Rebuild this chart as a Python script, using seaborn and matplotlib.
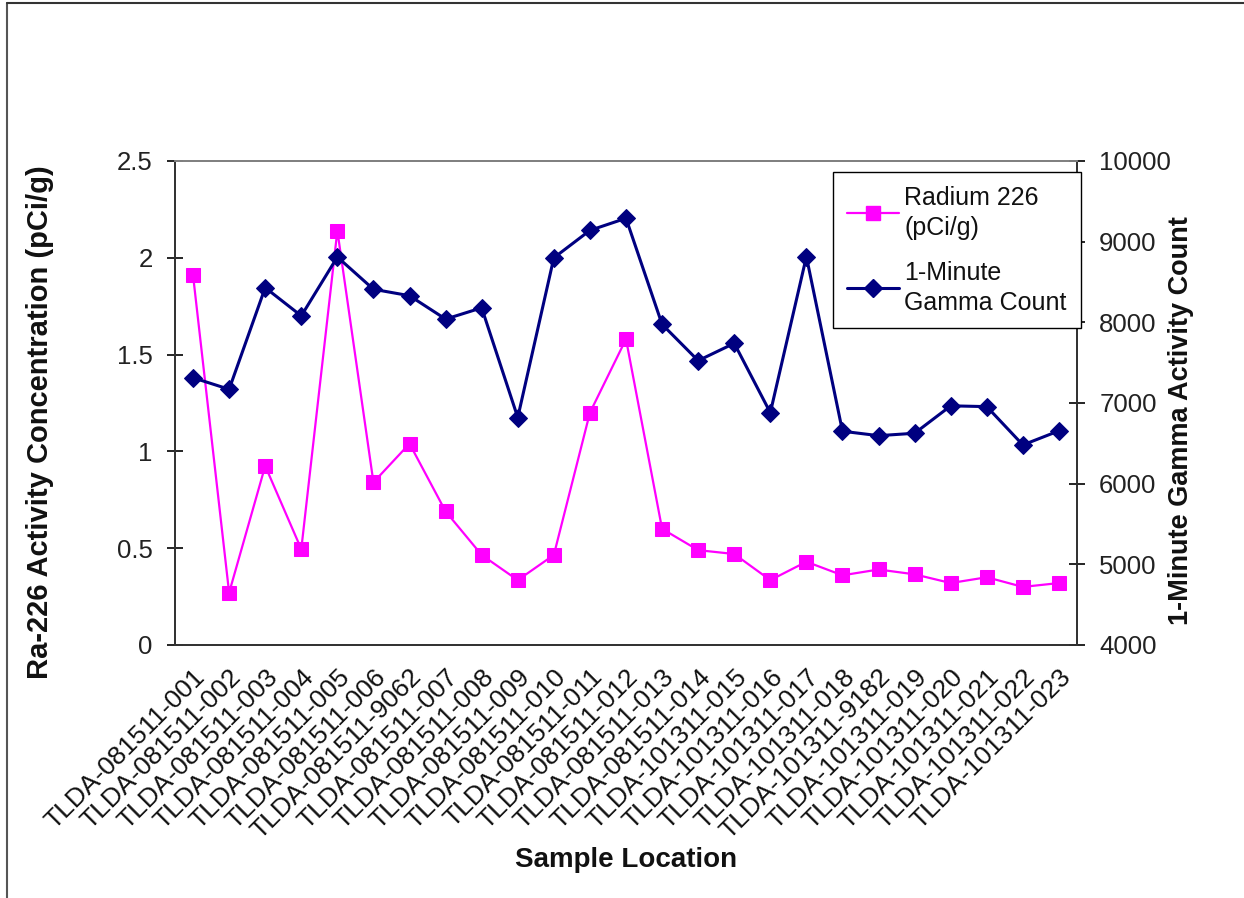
import matplotlib
matplotlib.use("Agg")
import matplotlib.pyplot as plt
import seaborn as sns
import pandas as pd
from matplotlib.lines import Line2D
from matplotlib.ticker import FixedLocator

samples = [
    "TLDA-081511-001", "TLDA-081511-002", "TLDA-081511-003", "TLDA-081511-004",
    "TLDA-081511-005", "TLDA-081511-006", "TLDA-081511-9062", "TLDA-081511-007",
    "TLDA-081511-008", "TLDA-081511-009", "TLDA-081511-010", "TLDA-081511-011",
    "TLDA-081511-012", "TLDA-081511-013", "TLDA-081511-014", "TLDA-101311-015",
    "TLDA-101311-016", "TLDA-101311-017", "TLDA-101311-018", "TLDA-101311-9182",
    "TLDA-101311-019", "TLDA-101311-020", "TLDA-101311-021", "TLDA-101311-022",
    "TLDA-101311-023",
]
radium = [1.91, 0.27, 0.925, 0.495, 2.14, 0.84, 1.04, 0.69, 0.465, 0.335,
          0.465, 1.20, 1.58, 0.60, 0.49, 0.47, 0.335, 0.43, 0.36, 0.39,
          0.365, 0.32, 0.35, 0.30, 0.32]
gamma = [7313, 7170, 8430, 8080, 8810, 8410, 8330, 8040, 8180, 6820,
         8800, 9140, 9290, 7975, 7525, 7740, 6880, 8815, 6650, 6595,
         6625, 6965, 6955, 6480, 6655]

radium_label = "Radium 226\n(pCi/g)"
gamma_label = "1-Minute\nGamma Count"
left_ticks = [0, 0.5, 1, 1.5, 2, 2.5]
left_ticklabels = ["0", "0.5", "1", "1.5", "2", "2.5"]
right_ticks = [4000, 5000, 6000, 7000, 8000, 9000, 10000]

sns.set_style("white")
plt.rcParams["font.family"] = ["Liberation Sans", "DejaVu Sans"]

df = pd.DataFrame({"sample": samples, "radium": radium, "gamma": gamma})

W, H = 1244, 898
fig = plt.figure(figsize=(W / 100, H / 100), dpi=100)
ax = fig.add_axes([175 / W, 1 - 645 / H, (1077 - 175) / W, (645 - 161) / H])
ax2 = ax.twinx()

sns.lineplot(data=df, x="sample", y="radium", ax=ax, sort=False, color="#FF00FF",
             linewidth=1.6, marker="s", markersize=10, markeredgecolor="#FF00FF",
             label=radium_label, legend=False)
sns.lineplot(data=df, x="sample", y="gamma", ax=ax2, sort=False, color="#000080",
             linewidth=2.2, marker="D", markersize=9, markeredgecolor="#000080",
             label=gamma_label, legend=False)

n = len(samples)
ax.set_xlim(-0.5, n - 0.5)
ax.set_ylim(0, 2.5)
ax2.set_ylim(4000, 10000)

ax.set_xticks(range(n))
ax.set_xticklabels(samples, rotation=45, ha="right", rotation_mode="anchor", fontsize=19,
                   color="#111111")
ax.tick_params(axis="x", which="major", length=0, pad=14)
ax.xaxis.set_minor_locator(FixedLocator([i - 0.5 for i in range(n + 1)]))
ax.tick_params(axis="x", which="minor", length=12, direction="inout", width=1.2, color="black")

ax.set_yticks(left_ticks)
ax.set_yticklabels(left_ticklabels, fontsize=18.5, color="#222222")
ax.tick_params(axis="y", length=12, direction="inout", width=1.2, color="black", pad=10, left=True)
ax2.set_yticks(right_ticks)
ax2.set_yticklabels([str(t) for t in right_ticks], fontsize=18.5, color="#222222")
ax2.tick_params(axis="y", length=12, direction="inout", width=1.2, color="black", pad=10, right=True)

ax.set_xlabel("Sample Location", fontsize=20, fontweight="bold", color="#111111")
ax.xaxis.set_label_coords(0.5, (645 - 860) / 484)
ax.xaxis.label.set_va("center")
ax.set_ylabel("Ra-226 Activity Concentration (pCi/g)", fontsize=21, fontweight="bold",
              color="#111111")
ax.yaxis.set_label_coords((40 - 175) / 902, (645 - 422) / 484)
ax.yaxis.label.set_va("center")
ax2.set_ylabel("1-Minute Gamma Activity Count", fontsize=19.5, fontweight="bold",
               color="#111111")
ax2.yaxis.set_label_coords((1181 - 175) / 902, (645 - 421) / 484)
ax2.yaxis.label.set_va("center")

for a in (ax, ax2):
    for side, sp in a.spines.items():
        sp.set_visible(True)
        sp.set_color("#333333")
        sp.set_linewidth(1.3)
ax2.spines["top"].set_color("#888888")

handles = [
    Line2D([], [], color="#FF00FF", linewidth=1.6, marker="s", markersize=10),
    Line2D([], [], color="#000080", linewidth=2.2, marker="D", markersize=9),
]
leg = ax2.legend(handles, [radium_label, gamma_label], loc="upper right",
                 bbox_to_anchor=(1.004, 0.977), borderaxespad=0, fontsize=18,
                 frameon=True, fancybox=False, framealpha=1, edgecolor="black",
                 handlelength=2.1, handletextpad=0.2, labelspacing=0.85,
                 borderpad=0.55)
leg.get_frame().set_linewidth(1.0)
for t in leg.get_texts():
    t.set_linespacing(1.3)
    t.set_color("#111111")

# figure frame border (left and top)
fig.add_artist(Line2D([7 / W, 7 / W], [0, 1 - 3 / H], transform=fig.transFigure,
                      color="#555555", linewidth=1.5))
fig.add_artist(Line2D([7 / W, 1], [1 - 3 / H, 1 - 3 / H], transform=fig.transFigure,
                      color="#333333", linewidth=1.5))

fig.savefig("out.png", dpi=100)
